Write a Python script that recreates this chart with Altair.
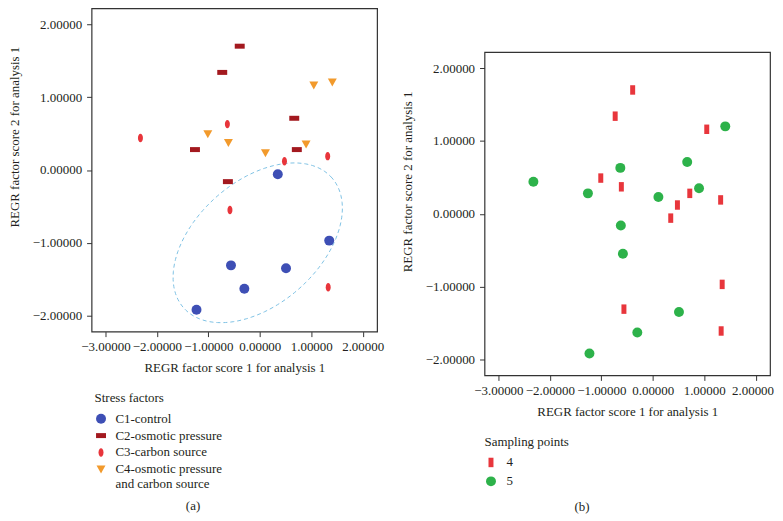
import altair as alt
import pandas as pd
import numpy as np

# ---- data ----
x_vals = [-0.39, -0.73, 0.67, -1.26, 0.72, -0.62,
          1.05, 1.41, -1.01, -0.61, 0.11, 0.90,
          -2.32, -0.63, 0.48, 1.32, -0.58, 1.33,
          0.35, 1.35, -0.56, 0.51, -0.30, -1.23]
y_vals = [1.70, 1.34, 0.71, 0.28, 0.28, -0.16,
          1.16, 1.20, 0.49, 0.37, 0.23, 0.35,
          0.44, 0.63, 0.12, 0.19, -0.55, -1.61,
          -0.06, -0.97, -1.31, -1.35, -1.63, -1.92]
stress = (["C2-osmotic pressure"] * 6
          + ["C4-osmotic pressure and carbon source"] * 6
          + ["C3-carbon source"] * 6
          + ["C1-control"] * 6)
sampling = ["4", "4", "5", "5", "4", "5",
            "4", "5", "4", "4", "5", "5",
            "5", "5", "4", "4", "5", "4",
            "4", "4", "4", "5", "5", "5"]

stress_domain = ["C1-control", "C2-osmotic pressure", "C3-carbon source",
                 "C4-osmotic pressure and carbon source"]
stress_colors = ["#3E4FB5", "#A3191F", "#E8353B", "#F29A2C"]
stress_shapes = ["circle", "M-1,-0.5H1V0.5H-1Z",
                 "M0,-0.85A0.5,0.85,0,1,1,0,0.85A0.5,0.85,0,1,1,0,-0.85Z",
                 "M-0.9,-0.8H0.9L0,0.8Z"]
sampling_domain = ["4", "5"]
sampling_colors = ["#E8363C", "#2DB24A"]
sampling_shapes = ["M-0.5,-0.95H0.5V0.95H-0.5Z", "circle"]

x_ticks = [-3, -2, -1, 0, 1, 2]
y_ticks = [-2, -1, 0, 1, 2]
x_domain = [-3.27, 2.28]
y_domain = [-2.22, 2.22]

# dashed ellipse (center and half-axis vectors in data units)
ell_center = (-0.04, -1.0)
ell_u = (1.445, 0.89)
ell_v = (-0.787, 0.641)

df = pd.DataFrame({"x": x_vals, "y": y_vals, "stress": stress, "sampling": sampling})
t = np.linspace(0, 2 * np.pi, 121)
ell = pd.DataFrame({
    "ex": ell_center[0] + ell_u[0] * np.cos(t) + ell_v[0] * np.sin(t),
    "ey": ell_center[1] + ell_u[1] * np.cos(t) + ell_v[1] * np.sin(t),
    "o": np.arange(len(t)),
})

FONT = "Liberation Serif"
TXT = "#231F20"
W, H = 287, 325

xscale = alt.Scale(domain=x_domain, nice=False, zero=False)
yscale = alt.Scale(domain=y_domain, nice=False, zero=False)


def xaxis(flush_last=False):
    kw = {}
    if flush_last:
        kw["labelAlign"] = {"condition": {"test": "datum.value == 2", "value": "right"}, "value": "center"}
        kw["labelOffset"] = {"condition": {"test": "datum.value == 2", "value": 18}, "value": 0}
    return alt.Axis(values=x_ticks, format=".5f", title="REGR factor score 1 for analysis 1",
                    labelPadding=4, titlePadding=8, tickSize=5, domain=False, grid=False,
                    labelFlush=False, labelOverlap=False, **kw)


def yaxis(ty):
    return alt.Axis(values=y_ticks, format=".5f", title="REGR factor score 2 for analysis 1",
                    labelPadding=5, tickSize=5, domain=False, grid=False,
                    titleX=-70, titleY=ty, labelFlush=False, labelOverlap=False)


C4_EXPR = ("datum.label == 'C4-osmotic pressure and carbon source' ? "
           "['C4-osmotic pressure', ' and carbon source'] : datum.label")


def stress_legend():
    return alt.Legend(title="Stress factors", orient="none", legendX=3, legendY=386,
                      rowPadding=3, labelOffset=8, symbolSize=100, titlePadding=7,
                      labelExpr=C4_EXPR)


def sampling_legend():
    return alt.Legend(title="Sampling points", orient="none", legendX=0, legendY=386,
                      rowPadding=5, labelOffset=9, symbolSize=100, titlePadding=7)


left_pts = alt.Chart(df).mark_point(filled=True, opacity=1, size=100).encode(
    x=alt.X("x:Q", scale=xscale, axis=xaxis()),
    y=alt.Y("y:Q", scale=yscale, axis=yaxis(129)),
    color=alt.Color("stress:N", scale=alt.Scale(domain=stress_domain, range=stress_colors),
                    legend=stress_legend()),
    shape=alt.Shape("stress:N", scale=alt.Scale(domain=stress_domain, range=stress_shapes),
                    legend=stress_legend()),
)

ellipse = alt.Chart(ell).mark_line(color="#7FC2E4", strokeDash=[4, 3], strokeWidth=1).encode(
    x=alt.X("ex:Q", scale=xscale), y=alt.Y("ey:Q", scale=yscale), order="o:Q")

lab_a = alt.Chart(pd.DataFrame({"t": ["(a)"]})).mark_text(
    font=FONT, fontSize=13, color=TXT).encode(text="t:N", x=alt.value(102), y=alt.value(500))

left = alt.layer(ellipse, left_pts, lab_a).properties(width=W, height=H)

right_pts = alt.Chart(df).mark_point(filled=True, opacity=1, size=100).encode(
    x=alt.X("x:Q", scale=xscale, axis=xaxis(True)),
    y=alt.Y("y:Q", scale=yscale, axis=yaxis(130)),
    color=alt.Color("sampling:N", scale=alt.Scale(domain=sampling_domain, range=sampling_colors),
                    legend=sampling_legend()),
    shape=alt.Shape("sampling:N", scale=alt.Scale(domain=sampling_domain, range=sampling_shapes),
                    legend=sampling_legend()),
)
lab_b = alt.Chart(pd.DataFrame({"t": ["(b)"]})).mark_text(
    font=FONT, fontSize=13, color=TXT).encode(text="t:N", x=alt.value(98), y=alt.value(457))

right = alt.layer(right_pts, lab_b).properties(width=W, height=H)

spacer = alt.Chart(pd.DataFrame({"t": [" "]})).mark_text(fontSize=2).encode(
    text="t:N", x=alt.value(0), y=alt.value(20)).properties(
    width=1, height=43, view=alt.ViewBackground(strokeOpacity=0))

right_col = alt.vconcat(spacer, right, spacing=0).resolve_scale(color="independent", shape="independent")

chart = alt.hconcat(left, right_col, spacing=16).resolve_scale(
    color="independent", shape="independent").properties(
    padding={"top": -2, "left": 0, "right": 0, "bottom": 0}, background="white").configure_view(
    stroke="#333333", strokeWidth=1.2).configure_axis(
    labelFont=FONT, labelFontSize=13, labelColor=TXT, titleFont=FONT, titleFontSize=13,
    titleFontWeight="normal", titleColor=TXT, tickColor="#333333").configure_legend(
    titleFont=FONT, titleFontSize=13, titleFontWeight="normal", titleColor=TXT,
    labelFont=FONT, labelFontSize=13, labelColor=TXT, padding=0)

chart.save("out.html", embed_options={"renderer": "svg", "actions": False})
